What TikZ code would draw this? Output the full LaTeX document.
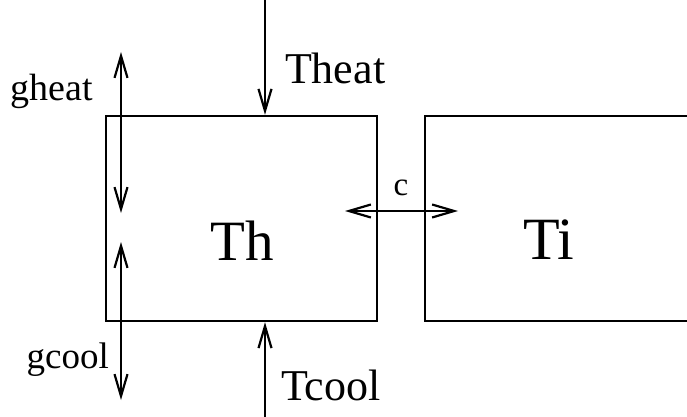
\documentclass[tikz,border=0pt]{standalone}
\usepackage{fontspec}
\setmainfont{Liberation Serif}
\usetikzlibrary{arrows.meta}

\begin{document}
\begin{tikzpicture}[x=1pt, y=-1pt, line width=2.2pt,
    flow/.style={-{Straight Barb[length=22pt, width=13pt, line width=2.2pt]}},
    both/.style={{Straight Barb[length=22pt, width=13pt, line width=2.2pt]}-{Straight Barb[length=22pt, width=13pt, line width=2.2pt]}},
    tank/.style={draw, line width=2.4pt, minimum width=271pt, minimum height=205pt, inner sep=0pt}]
    \useasboundingbox (0,0) rectangle (687,417);
    \clip (0,0) rectangle (687,417);
    \node[tank] (th) at (241.5,218.5) {};
    \node[tank] (ti) at (560.5,218.5) {};
    \node[anchor=base] (thname) at (242,260) {\fontsize{57}{60}\selectfont Th};
    \node[anchor=base] (tiname) at (549,259) {\fontsize{60}{62}\selectfont Ti};
    % heating and cooling
    \coordinate (heatin) at (265,0);
    \coordinate (coolin) at (265,417);
    \draw[flow] (heatin) -- (heatin |- th.north);
    \draw[flow] (coolin) -- (coolin |- th.south);
    \node[anchor=base west, inner sep=0pt] (theat) at (284,84) {\fontsize{44}{46}\selectfont Theat};
    \node[anchor=base west, inner sep=0pt] (tcool) at (280,400) {\fontsize{44}{46}\selectfont Tcool};
    % conductances
    \coordinate (gh1) at (121,52);
    \coordinate (gh2) at (121,213);
    \coordinate (gc1) at (121,242);
    \coordinate (gc2) at (121,400);
    \draw[both] (gh1) -- (gh2);
    \draw[both] (gc1) -- (gc2);
    \node[anchor=base, inner sep=0pt] (gheat) at (52,100) {\fontsize{38}{40}\selectfont gheat};
    \node[anchor=base east, inner sep=0pt] (gcool) at (110,368) {\fontsize{37}{39}\selectfont gcool};
    % coupling
    \coordinate (c1) at (345,211);
    \coordinate (c2) at (458,211);
    \draw[both] (c1) -- (c2);
    \node[anchor=base, inner sep=0pt] (cname) at (401,195) {\fontsize{33}{35}\selectfont c};
\end{tikzpicture}
\end{document}
